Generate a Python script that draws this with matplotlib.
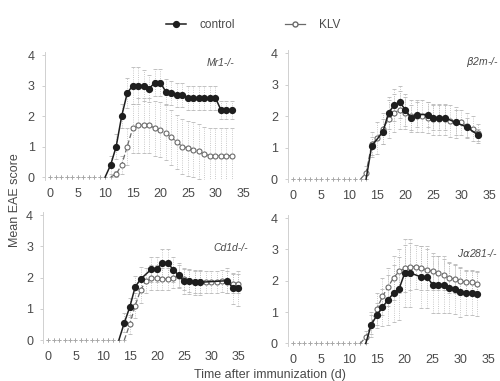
import numpy as np
import matplotlib
matplotlib.use('Agg')
import matplotlib.pyplot as plt
from matplotlib.lines import Line2D

plt.rcParams['font.family'] = ['Liberation Sans', 'DejaVu Sans']

# ---- data (mean EAE score, SEM) ----
mr1_ctrl_days = [0, 1, 2, 3, 4, 5, 6, 7, 8, 9, 10, 11, 12, 13, 14, 15, 16, 17, 18, 19, 20, 21, 22,
                 23, 24, 25, 26, 27, 28, 29, 30, 31, 32, 33]
mr1_ctrl = [0, 0, 0, 0, 0, 0, 0, 0, 0, 0, 0, 0.4, 1.0, 2.0, 2.75, 3.0, 3.0, 3.0, 2.9, 3.1, 3.1, 2.8,
            2.75, 2.7, 2.7, 2.6, 2.6, 2.6, 2.6, 2.6, 2.6, 2.2, 2.2, 2.2]
mr1_ctrl_err = [0, 0, 0, 0, 0, 0, 0, 0, 0, 0, 0, 0.3, 0.4, 0.4, 0.5, 0.6, 0.6, 0.5, 0.45, 0.45, 0.45,
                0.4, 0.4, 0.4, 0.4, 0.4, 0.4, 0.4, 0.4, 0.4, 0.4, 0.3, 0.3, 0.3]
mr1_klv_days = [0, 1, 2, 3, 4, 5, 6, 7, 8, 9, 10, 11, 12, 13, 14, 15, 16, 17, 18, 19, 20, 21, 22,
                23, 24, 25, 26, 27, 28, 29, 30, 31, 32, 33]
mr1_klv = [0, 0, 0, 0, 0, 0, 0, 0, 0, 0, 0, 0, 0.1, 0.4, 1.0, 1.6, 1.7, 1.7, 1.7, 1.6, 1.55, 1.45,
           1.3, 1.15, 1.0, 0.95, 0.9, 0.85, 0.75, 0.7, 0.7, 0.7, 0.7, 0.7]
mr1_klv_err = [0, 0, 0, 0, 0, 0, 0, 0, 0, 0, 0, 0, 0.1, 0.3, 0.6, 0.8, 0.9, 0.9, 0.9, 0.9, 0.9, 0.9,
               0.9, 0.9, 0.9, 0.9, 0.9, 0.9, 0.9, 0.9, 0.9, 0.9, 0.9, 0.9]

b2m_ctrl_days = [0, 1, 2, 3, 4, 5, 6, 7, 8, 9, 10, 11, 12, 13, 14, 16, 17, 18, 19, 20, 21, 22,
                 24, 25, 26, 27, 29, 31, 33]
b2m_ctrl = [0, 0, 0, 0, 0, 0, 0, 0, 0, 0, 0, 0, 0, 0, 1.05, 1.5, 2.1, 2.35, 2.45, 2.2, 1.95, 2.05,
            2.05, 1.95, 1.95, 1.95, 1.8, 1.65, 1.4]
b2m_ctrl_err = [0, 0, 0, 0, 0, 0, 0, 0, 0, 0, 0, 0, 0, 0, 0.3, 0.4, 0.5, 0.5, 0.5, 0.5, 0.4, 0.4,
                0.4, 0.4, 0.4, 0.4, 0.4, 0.3, 0.2]
b2m_klv_days = [0, 1, 2, 3, 4, 5, 6, 7, 8, 9, 10, 11, 12, 13, 14, 15, 16, 17, 18, 19, 20, 21, 22,
                23, 24, 25, 26, 27, 28, 29, 30, 31, 32, 33]
b2m_klv = [0, 0, 0, 0, 0, 0, 0, 0, 0, 0, 0, 0, 0, 0.2, 1.1, 1.3, 1.6, 1.9, 2.1, 2.2, 2.1, 2.0, 2.0,
           2.0, 1.95, 1.9, 1.9, 1.9, 1.85, 1.8, 1.8, 1.7, 1.6, 1.45]
b2m_klv_err = [0, 0, 0, 0, 0, 0, 0, 0, 0, 0, 0, 0, 0, 0.2, 0.4, 0.5, 0.5, 0.6, 0.6, 0.6, 0.5, 0.5,
               0.5, 0.5, 0.5, 0.5, 0.5, 0.5, 0.5, 0.5, 0.4, 0.4, 0.4, 0.3]

cd1d_ctrl_days = [0, 1, 2, 3, 4, 5, 6, 7, 8, 9, 10, 11, 12, 13, 14, 15, 16, 17, 19, 20, 21, 22, 23,
                  24, 25, 26, 27, 28, 33, 34, 35]
cd1d_ctrl = [0, 0, 0, 0, 0, 0, 0, 0, 0, 0, 0, 0, 0, 0, 0.55, 1.05, 1.7, 1.95, 2.27, 2.27, 2.48, 2.48,
             2.25, 2.08, 1.88, 1.88, 1.85, 1.85, 1.9, 1.65, 1.65]
cd1d_ctrl_err = [0, 0, 0, 0, 0, 0, 0, 0, 0, 0, 0, 0, 0, 0, 0.3, 0.3, 0.35, 0.4, 0.4, 0.4, 0.45, 0.45,
                 0.4, 0.4, 0.4, 0.4, 0.4, 0.4, 0.4, 0.5, 0.55]
cd1d_klv_days = [0, 1, 2, 3, 4, 5, 6, 7, 8, 9, 10, 11, 12, 13, 14, 15, 16, 17, 18, 19, 20, 21, 22,
                 23, 24, 25, 26, 27, 28, 29, 30, 31, 32, 33, 34, 35]
cd1d_klv = [0, 0, 0, 0, 0, 0, 0, 0, 0, 0, 0, 0, 0, 0, 0, 0.5, 1.1, 1.6, 1.9, 2.0, 2.0, 1.95, 1.95,
            2.0, 2.05, 1.95, 1.9, 1.85, 1.85, 1.85, 1.85, 1.85, 1.9, 1.85, 1.8, 1.8]
cd1d_klv_err = [0, 0, 0, 0, 0, 0, 0, 0, 0, 0, 0, 0, 0, 0, 0, 0.3, 0.4, 0.4, 0.4, 0.4, 0.4, 0.35,
                0.35, 0.35, 0.35, 0.35, 0.35, 0.35, 0.35, 0.35, 0.35, 0.35, 0.35, 0.35, 0.3, 0.3]

ja_ctrl_days = [0, 1, 2, 3, 4, 5, 6, 7, 8, 9, 10, 11, 12, 13, 14, 15, 16, 17, 18, 19, 20, 21, 23,
                24, 25, 26, 27, 28, 29, 30, 31, 32, 33]
ja_ctrl = [0, 0, 0, 0, 0, 0, 0, 0, 0, 0, 0, 0, 0, 0, 0.6, 0.9, 1.15, 1.4, 1.6, 1.75, 2.25, 2.25,
           2.12, 2.12, 1.88, 1.88, 1.88, 1.77, 1.75, 1.63, 1.6, 1.6, 1.58]
ja_ctrl_err = [0, 0, 0, 0, 0, 0, 0, 0, 0, 0, 0, 0, 0, 0, 0.3, 0.4, 0.6, 0.8, 0.9, 1.0, 1.1, 1.1,
               1.0, 1.0, 0.9, 0.9, 0.9, 0.8, 0.8, 0.8, 0.7, 0.7, 0.7]
ja_klv_days = [0, 1, 2, 3, 4, 5, 6, 7, 8, 9, 10, 11, 12, 13, 14, 15, 16, 17, 18, 19, 20, 21, 22,
               23, 24, 25, 26, 27, 28, 29, 30, 31, 32, 33]
ja_klv = [0, 0, 0, 0, 0, 0, 0, 0, 0, 0, 0, 0, 0, 0.2, 0.6, 1.1, 1.5, 1.8, 2.1, 2.3, 2.4, 2.45, 2.45,
          2.4, 2.35, 2.3, 2.25, 2.2, 2.1, 2.05, 2.0, 1.95, 1.95, 1.9]
ja_klv_err = [0, 0, 0, 0, 0, 0, 0, 0, 0, 0, 0, 0, 0, 0.2, 0.4, 0.5, 0.6, 0.6, 0.7, 0.7, 0.75, 0.75,
              0.7, 0.7, 0.65, 0.6, 0.55, 0.5, 0.5, 0.45, 0.4, 0.4, 0.4, 0.4]

panel_names = ['Mr1-/-', r'$\beta$2m-/-', 'Cd1d-/-', r'J$\alpha$281-/-']
panel_label_pos = [(33.5, 3.75), (36.6, 3.72), (36.8, 2.95), (36.7, 2.9)]
x_ticks = [0, 5, 10, 15, 20, 25, 30, 35]
y_ticks = [0, 1, 2, 3, 4]

panels = [
    (mr1_ctrl_days, mr1_ctrl, mr1_ctrl_err, mr1_klv_days, mr1_klv, mr1_klv_err),
    (b2m_ctrl_days, b2m_ctrl, b2m_ctrl_err, b2m_klv_days, b2m_klv, b2m_klv_err),
    (cd1d_ctrl_days, cd1d_ctrl, cd1d_ctrl_err, cd1d_klv_days, cd1d_klv, cd1d_klv_err),
    (ja_ctrl_days, ja_ctrl, ja_ctrl_err, ja_klv_days, ja_klv, ja_klv_err),
]

# axes boxes in pixels (left, right, top, bottom) of a 500x381 canvas
W, H = 500, 381
boxes = [(44.5, 248.5, 52, 179.5), (287.7, 494.9, 50, 181.6),
         (42.9, 243.7, 212, 342.5), (287.7, 493.9, 215, 346)]

txt_col = '#4a4a4a'
ctrl_col = '#1e1e1e'
klv_col = '#6a6a6a'
err_col = '#b8b8b8'

fig = plt.figure(figsize=(5.0, 3.81), dpi=100)


def draw_series(ax, days, vals, err, filled):
    d = np.array(days, dtype=float)
    v = np.array(vals, dtype=float)
    e = np.array(err, dtype=float)
    on = v > 0
    # last zero before onset is still part of the rising line
    first = np.argmax(on) - 1
    line_mask = on.copy()
    line_mask[first] = True
    if filled:
        style = dict(color=ctrl_col, marker='o', ms=4.2, mfc=ctrl_col, mec=ctrl_col,
                     lw=1.1, ls='-', zorder=4)
    else:
        style = dict(color=klv_col, marker='o', ms=3.6, mfc='white', mec=klv_col,
                     mew=0.8, lw=0.9, ls=(0, (4, 2)), zorder=3)
    eb = ax.errorbar(d[on], v[on], yerr=e[on], fmt='none', ecolor=err_col,
                     elinewidth=0.6, capsize=1.5, capthick=0.6, zorder=1)
    eb[2][0].set_linestyle(':')
    ax.plot(d[line_mask], v[line_mask], markevery=list(range(1, line_mask.sum())), **style)
    # faint baseline points before onset
    ax.plot(d[~on], v[~on], ls='none', marker='+', ms=3, mew=0.6, color='#a8a8a8', zorder=2)


for i, (cd, cv, ce, kd, kv, ke) in enumerate(panels):
    l, r, t, b = boxes[i]
    ax = fig.add_axes([l / W, 1 - b / H, (r - l) / W, (b - t) / H])
    draw_series(ax, kd, kv, ke, False)
    draw_series(ax, cd, cv, ce, True)
    ax.set_xlim(-1, 36)
    ax.set_ylim(-0.08, 4.1)
    ax.set_xticks(x_ticks)
    ax.set_yticks(y_ticks)
    for s in ['top', 'right', 'bottom']:
        ax.spines[s].set_visible(False)
    ax.spines['left'].set_color('#d0d0d0')
    ax.spines['left'].set_linewidth(0.7)
    ax.tick_params(axis='both', colors='#c8c8c8', labelcolor=txt_col, labelsize=9,
                   length=2, width=0.6)
    ax.tick_params(axis='x', length=0, pad=6)
    ax.tick_params(axis='y', pad=5)
    ax.patch.set_alpha(0)
    px, py = panel_label_pos[i]
    ax.text(px, py, panel_names[i], ha='right', va='center', fontsize=7.5,
            style='italic', color=txt_col, clip_on=False)

fig.text(15 / W, 1 - 200 / H, 'Mean EAE score', rotation=90, ha='center', va='center',
         fontsize=9, color=txt_col)
fig.text(270 / W, 1 - 375 / H, 'Time after immunization (d)', ha='center', va='center',
         fontsize=9, color=txt_col)

handles = [
    Line2D([], [], color=ctrl_col, marker='o', ms=4.2, lw=1.1),
    Line2D([], [], color=klv_col, marker='o', ms=3.6, mfc='white', lw=0.9),
]
fig.legend(handles, ['control', 'KLV'], loc='center', bbox_to_anchor=(253 / W, 1 - 25 / H),
           ncol=2, frameon=False, fontsize=8.5, handlelength=1.7, handletextpad=1.2,
           columnspacing=4.2, labelcolor=txt_col)

fig.savefig('out.png', dpi=100)
